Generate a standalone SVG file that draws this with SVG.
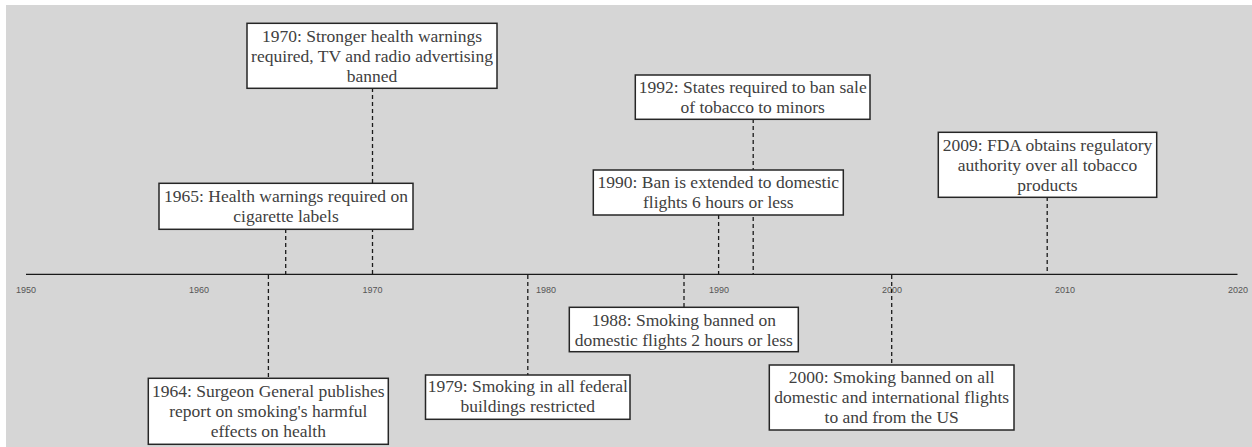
<svg xmlns="http://www.w3.org/2000/svg" width="1252" height="447" viewBox="0 0 1252 447">
<style>
.box{fill:#ffffff;stroke:#262626;stroke-width:1.5}
.t{font-family:"Liberation Serif","Times New Roman",serif;font-size:17.5px;fill:#404040;text-anchor:middle}
.yr{font-family:"Liberation Sans",Arial,sans-serif;font-size:9px;fill:#555555;text-anchor:middle}
.dash{stroke:#1a1a1a;stroke-width:1.3;stroke-dasharray:4,3;fill:none}
.axis{stroke:#1a1a1a;stroke-width:1.3}
</style>
<rect x="0" y="0" width="1252" height="447" fill="#ffffff"/>
<rect x="6" y="5" width="1246" height="442" fill="#d6d6d6"/>
<g id="axis">
<line class="axis" x1="26" y1="274.3" x2="1237.5" y2="274.3"/>
<text class="yr" x="26" y="292.5">1950</text>
<text class="yr" x="199" y="292.5">1960</text>
<text class="yr" x="372.5" y="292.5">1970</text>
<text class="yr" x="546" y="292.5">1980</text>
<text class="yr" x="719" y="292.5">1990</text>
<text class="yr" x="892" y="292.5">2000</text>
<text class="yr" x="1065" y="292.5">2010</text>
<text class="yr" x="1238" y="292.5">2020</text>
</g>
<g id="connectors">
<line class="dash" x1="268.4" y1="275" x2="268.4" y2="378"/>
<line class="dash" x1="285.7" y1="229" x2="285.7" y2="274"/>
<line class="dash" x1="372.5" y1="88" x2="372.5" y2="274"/>
<line class="dash" x1="527.8" y1="275" x2="527.8" y2="375"/>
<line class="dash" x1="684" y1="275" x2="684" y2="307"/>
<line class="dash" x1="718.6" y1="215" x2="718.6" y2="274"/>
<line class="dash" x1="753.2" y1="119" x2="753.2" y2="274"/>
<line class="dash" x1="891.7" y1="275" x2="891.7" y2="365"/>
<line class="dash" x1="1047.2" y1="197" x2="1047.2" y2="274"/>
</g>
<g id="n1970">
<rect class="box" x="247" y="23.3" width="250" height="65"/>
<text class="t" x="372" y="41.6">1970: Stronger health warnings</text>
<text class="t" x="372" y="61.6">required, TV and radio advertising</text>
<text class="t" x="372" y="81.6">banned</text>
</g>
<g id="n1965">
<rect class="box" x="159" y="183.3" width="254" height="46"/>
<text class="t" x="286" y="201.6">1965: Health warnings required on</text>
<text class="t" x="286" y="221.6">cigarette labels</text>
</g>
<g id="n1964">
<rect class="box" x="148.3" y="378.3" width="240" height="66"/>
<text class="t" x="268.3" y="396.6">1964: Surgeon General publishes</text>
<text class="t" x="268.3" y="416.6">report on smoking's harmful</text>
<text class="t" x="268.3" y="436.6">effects on health</text>
</g>
<g id="n1979">
<rect class="box" x="425.5" y="375" width="204.5" height="44.3"/>
<text class="t" x="527.8" y="392.3">1979: Smoking in all federal</text>
<text class="t" x="527.8" y="412.3">buildings restricted</text>
</g>
<g id="n1988">
<rect class="box" x="569.3" y="307.3" width="229" height="44.4"/>
<text class="t" x="683.8" y="325.6">1988: Smoking banned on</text>
<text class="t" x="683.8" y="345.6">domestic flights 2 hours or less</text>
</g>
<g id="n1990">
<rect class="box" x="593.3" y="170" width="250" height="45"/>
<text class="t" x="718.3" y="188.3">1990: Ban is extended to domestic</text>
<text class="t" x="718.3" y="208.3">flights 6 hours or less</text>
</g>
<g id="n1992">
<rect class="box" x="635.3" y="75" width="234.7" height="44.3"/>
<text class="t" x="752.7" y="93.3">1992: States required to ban sale</text>
<text class="t" x="752.7" y="113.3">of tobacco to minors</text>
</g>
<g id="n2000">
<rect class="box" x="769.3" y="365" width="244.7" height="65"/>
<text class="t" x="891.7" y="383.3">2000: Smoking banned on all</text>
<text class="t" x="891.7" y="403.3">domestic and international flights</text>
<text class="t" x="891.7" y="423.3">to and from the US</text>
</g>
<g id="n2009">
<rect class="box" x="938.3" y="132.3" width="218.4" height="65"/>
<text class="t" x="1047.5" y="150.6">2009: FDA obtains regulatory</text>
<text class="t" x="1047.5" y="170.6">authority over all tobacco</text>
<text class="t" x="1047.5" y="190.6">products</text>
</g>
</svg>
